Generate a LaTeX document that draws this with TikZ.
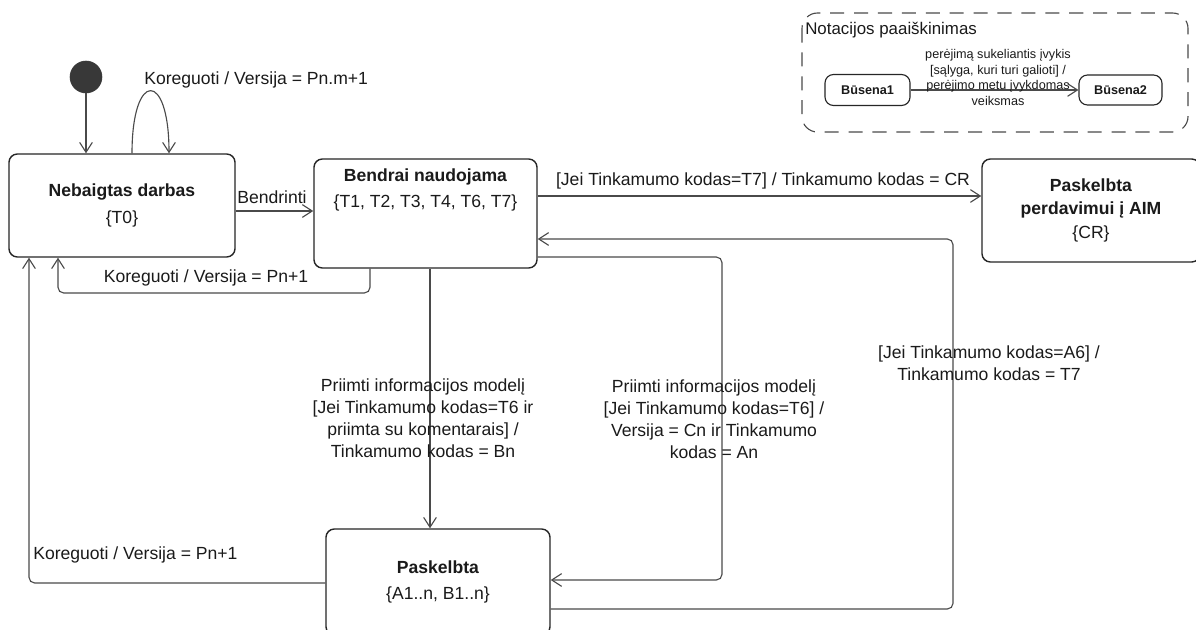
\documentclass[tikz,border=0pt]{standalone}
\usepackage{fontspec}
\setmainfont{Liberation Sans}
\usetikzlibrary{arrows.meta,calc,positioning}

\definecolor{linea}{HTML}{4A4A4A}
\definecolor{borde}{HTML}{262626}
\definecolor{texto}{HTML}{1A1A1A}

\tikzset{
    estado/.style={draw=borde, line width=1pt, rounded corners=6pt, fill=white,
        align=center, text=texto, inner sep=0pt, font=\fontsize{12.5}{16}\selectfont},
    inicio/.style={circle, fill=black!78, draw=black!78, minimum size=0.8cm, inner sep=0pt},
    trans/.style={draw=linea, line width=0.8pt, rounded corners=4pt,
        -{Straight Barb[length=7pt,width=9pt]}},
    etiqueta/.style={text=texto, align=center, inner sep=0pt,
        font=\fontsize{12.5}{15.6}\selectfont},
    pequena/.style={text=texto, align=center, inner sep=0pt,
        font=\fontsize{9}{11.2}\selectfont},
    leyenda/.style={draw=linea, line width=0.8pt, dash pattern=on 10pt off 7pt,
        rounded corners=11pt}
}

\begin{document}
\begin{tikzpicture}[x=0.025cm, y=-0.025cm]
    \useasboundingbox (0,0) rectangle (1196,630);
    \clip (0,0) rectangle (1196,630);

    % Estados
    \node[inicio] (ini) at (86,77) {};
    \node[estado, minimum width=5.65cm, minimum height=2.575cm] (nebaigtas) at (122,205.5)
        {\textbf{Nebaigtas darbas}\\[3pt]\{T0\}};
    \node[estado, minimum width=5.575cm, minimum height=2.725cm] (bendrai) at (425.5,213.5) {};
    \node[etiqueta, anchor=north] (bendraiTxt) at ($(bendrai.north)+(0,10)$)
        {\textbf{Bendrai naudojama}\\[3pt]\{T1, T2, T3, T4, T6, T7\}};
    \node[estado, minimum width=5.45cm, minimum height=2.575cm] (aim) at (1091,210.5)
        {\textbf{Paskelbta}\\\textbf{perdavimui į AIM}\\[1pt]\{CR\}};
    \node[estado, minimum width=5.6cm, minimum height=2.65cm] (paskelbta) at (438,582)
        {\textbf{Paskelbta}\\[3pt]\{A1..n, B1..n\}};

    % Pradžia ir kilpa
    \draw[trans] (ini.south) -- (ini.south |- nebaigtas.north);
    \draw[trans] ($(nebaigtas.north)+(10,0)$) .. controls (132,70) and (169,70) .. ($(nebaigtas.north)+(47,0)$);
    \node[etiqueta, anchor=west] (kilpaTxt) at (144,80) {Koreguoti / Versija = Pn.m+1};

    % Bendrinti
    \coordinate (b1) at ($(nebaigtas.east)+(0,5.5)$);
    \draw[trans] (b1) -- (b1 -| bendrai.west);
    \node[etiqueta, anchor=west] (bendrintiTxt) at (237,197) {Bendrinti};

    % Grįžimas į Nebaigtas darbas
    \draw[trans] ($(bendrai.south)+(-55.5,0)$) -- (370,293) -- (58,293) -- ($(nebaigtas.south)+(-64,0)$);
    \node[etiqueta] (koregTxtA) at (206,278) {Koreguoti / Versija = Pn+1};

    \draw[trans] ($(paskelbta.west)+(0,1)$) -| ($(nebaigtas.south)+(-93,0)$);
    \node[etiqueta, anchor=west] (koregTxtB) at (33,555) {Koreguoti / Versija = Pn+1};

    % Priimti informacijos modelį
    \coordinate (p1) at ($(bendrai.south)+(4.5,0)$);
    \draw[trans] (p1) -- (p1 |- paskelbta.north);
    \node[etiqueta] (priimtiTxtA) at (423,418)
        {Priimti informacijos modelį\\{[Jei Tinkamumo kodas=T6 ir}\\priimta su komentarais] /\\Tinkamumo kodas = Bn};

    \draw[trans] ($(bendrai.east)+(0,43.5)$) -| (722,580) -- ($(paskelbta.east)+(0,-2)$);
    \node[etiqueta] (priimtiTxtB) at (714,419)
        {Priimti informacijos modelį\\{[Jei Tinkamumo kodas=T6] /}\\Versija = Cn ir Tinkamumo\\kodas = An};

    % A6 -> T7
    \draw[trans] ($(paskelbta.east)+(0,27)$) -| (953,239) -- ($(bendrai.east)+(0,25.5)$);
    \node[etiqueta] (a6Txt) at (989,363.5) {{[Jei Tinkamumo kodas=A6] /}\\Tinkamumo kodas = T7};

    % T7 -> CR
    \draw[trans] ($(bendrai.east)+(0,-17.5)$) -- ($(aim.west)+(0,-14.5)$);
    \node[etiqueta] (crTxt) at (763,181) {[Jei Tinkamumo kodas=T7] / Tinkamumo kodas = CR};

    % Notacijos paaiškinimas
    \draw[leyenda] (802,13) rectangle (1188,132);
    \node[etiqueta, anchor=west, font=\fontsize{12}{14}\selectfont] (leyendaTxt) at (805,30) {Notacijos paaiškinimas};
    \node[estado, line width=0.8pt, font=\fontsize{9}{11}\selectfont, minimum width=2.125cm, minimum height=0.775cm] (bus1) at (867.5,90) {\textbf{Būsena1}};
    \node[estado, line width=0.8pt, font=\fontsize{9}{11}\selectfont, minimum width=2.075cm, minimum height=0.75cm] (bus2) at (1120.5,90) {\textbf{Būsena2}};
    \draw[trans] (bus1.east) -- (bus2.west);
    \node[pequena] (bus12Txt) at (998,77.5)
        {perėjimą sukeliantis įvykis\\{[sąlyga, kuri turi galioti] /}\\perėjimo metu įvykdomas\\veiksmas};
\end{tikzpicture}
\end{document}
